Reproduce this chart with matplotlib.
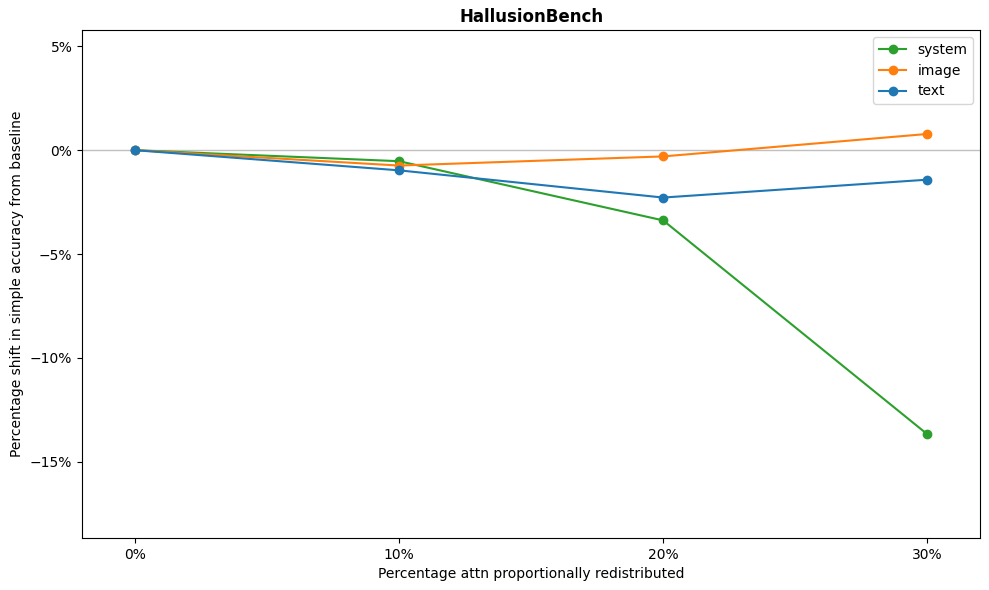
import matplotlib.pyplot as plt
from matplotlib.ticker import FuncFormatter

# percentage of attention redistributed
pcts = [0, 10, 20, 30]

# shift in simple accuracy from baseline (%)
system = [0.0, -0.53, -3.38, -13.67]
image = [0.0, -0.74, -0.30, 0.78]
text = [0.0, -0.97, -2.28, -1.42]

fig, ax = plt.subplots(figsize=(9.89, 5.9))

ax.axhline(0, color='silver', linewidth=1, zorder=0)
ax.plot(pcts, system, marker='o', color='tab:green', label='system')
ax.plot(pcts, image, marker='o', color='tab:orange', label='image')
ax.plot(pcts, text, marker='o', color='tab:blue', label='text')

allvals = system + image + text
ax.set_ylim(min(allvals) - 5, max(allvals) + 5)
ax.set_xlim(-2, 32)
ax.set_xticks(pcts)
ax.xaxis.set_major_formatter(FuncFormatter(lambda v, _: f'{v:.0f}%'))
ax.yaxis.set_major_formatter(FuncFormatter(lambda v, _: f'{v:.0f}%'.replace('-', '\u2212')))

ax.set_title('HallusionBench', fontweight='bold')
ax.set_xlabel('Percentage attn proportionally redistributed')
ax.set_ylabel('Percentage shift in simple accuracy from baseline')
ax.legend(loc='upper right')

fig.subplots_adjust(left=0.083, right=0.991, top=0.949, bottom=0.088)
fig.savefig('out.png', dpi=100)
